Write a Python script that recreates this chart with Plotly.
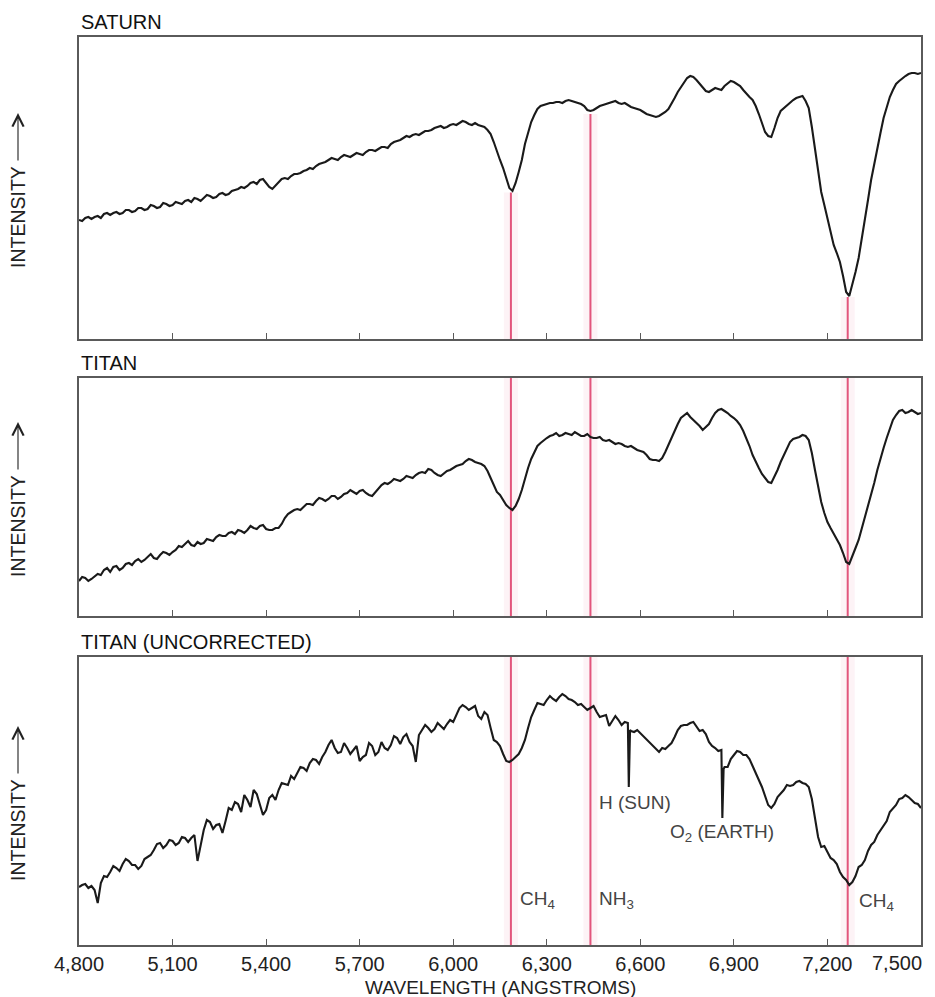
import plotly.graph_objects as go
import numpy as np

# ---------------- data ----------------
WAVELENGTH = list(range(4800, 7501, 20))      # main sampling grid (Angstroms)
WAVELENGTH_MID = list(range(4810, 7500, 20))  # in-between samples (fine structure)

# relative intensity (arbitrary units)
SATURN = [
    119, 121, 120, 123, 125, 124, 127, 126, 129, 128,
    131, 130, 133, 132, 135, 134, 136, 138, 137, 140,
    141, 143, 142, 146, 145, 149, 152, 153, 157, 159,
    156, 150, 157, 161, 163, 165, 168, 171, 173, 176,
    179, 180, 182, 183, 184, 185, 187, 189, 190, 192,
    195, 198, 201, 202, 205, 206, 208, 211, 213, 212,
    215, 216, 217, 214, 214, 212, 205, 187, 171, 151,
    156, 179, 207, 224, 233, 235, 236, 237, 238, 238,
    236, 233, 228, 231, 234, 236, 238, 235, 234, 231,
    229, 225, 223, 223, 227, 235, 247, 257, 263, 259,
    251, 247, 251, 249, 256, 257, 253, 245, 239, 225,
    207, 202, 221, 231, 237, 241, 243, 231, 189, 147,
    121, 94, 77, 47, 54, 81, 117, 159, 191, 221,
    242, 255, 261, 265, 266, 266,
]
SATURN_MID = [
    118, 122, 122, 121, 126, 126, 125, 129, 127, 131,
    129, 134, 131, 136, 133, 137, 135, 139, 141, 138,
    144, 141, 145, 144, 148, 150, 151, 156, 155, 160,
    152, 153, 160, 160, 165, 166, 169, 170, 175, 177,
    181, 179, 184, 182, 186, 184, 189, 188, 192, 191,
    197, 199, 203, 204, 204, 208, 209, 212, 211, 214,
    214, 218, 215, 216, 213, 209, 197, 179, 160, 148,
    167, 195, 217, 230, 234, 236, 237, 236, 239, 237,
    235, 229, 229, 233, 235, 237, 236, 236, 232, 230,
    227, 224, 222, 225, 230, 241, 252, 261, 262, 255,
    248, 249, 250, 253, 258, 255, 249, 242, 233, 216,
    203, 211, 228, 234, 239, 242, 238, 212, 168, 134,
    107, 86, 63, 43, 67, 99, 139, 176, 206, 232,
    249, 258, 263, 266, 265,
]

TITAN = [
    35, 38, 37, 42, 46, 44, 50, 48, 53, 55,
    54, 59, 58, 61, 63, 64, 70, 72, 71, 74,
    73, 76, 79, 80, 83, 82, 85, 86, 88, 90,
    87, 86, 88, 98, 104, 107, 109, 112, 115, 117,
    117, 120, 119, 123, 124, 125, 123, 120, 128, 133,
    134, 136, 137, 139, 141, 144, 147, 143, 140, 145,
    148, 151, 155, 156, 153, 150, 138, 124, 116, 108,
    110, 126, 148, 164, 173, 178, 181, 180, 183, 181,
    182, 180, 179, 178, 176, 176, 172, 172, 169, 168,
    165, 161, 156, 155, 164, 178, 192, 201, 199, 194,
    186, 192, 203, 207, 203, 198, 191, 178, 161, 148,
    138, 133, 146, 161, 174, 178, 181, 176, 146, 114,
    94, 82, 71, 54, 61, 76, 98, 121, 146, 168,
    188, 201, 206, 204, 204, 203,
]
TITAN_MID = [
    39, 35, 40, 41, 48, 49, 46, 52, 51, 57,
    56, 62, 57, 64, 61, 66, 69, 75, 70, 72,
    77, 75, 81, 80, 84, 86, 83, 90, 87, 91,
    86, 88, 92, 102, 106, 106, 112, 111, 118, 115,
    120, 117, 122, 126, 122, 126, 121, 124, 131, 132,
    137, 135, 140, 138, 143, 143, 146, 141, 143, 146,
    150, 152, 157, 154, 152, 145, 130, 121, 111, 106,
    117, 138, 157, 170, 176, 180, 183, 181, 182, 184,
    180, 182, 178, 179, 175, 174, 173, 170, 170, 166,
    164, 157, 156, 158, 171, 186, 198, 203, 196, 190,
    189, 198, 206, 205, 200, 195, 185, 170, 154, 142,
    134, 139, 154, 168, 177, 179, 180, 163, 130, 103,
    88, 77, 63, 52, 68, 87, 110, 133, 158, 178,
    196, 205, 203, 206, 202,
]

TITAN_UNCORRECTED = [
    58, 61, 59, 42, 69, 73, 77, 81, 84, 80,
    79, 88, 95, 102, 100, 104, 102, 107, 107, 84,
    115, 123, 120, 112, 137, 143, 133, 145, 155, 140,
    135, 150, 155, 161, 169, 172, 177, 182, 185, 188,
    200, 197, 193, 197, 195, 184, 190, 199, 193, 197,
    200, 207, 208, 203, 183, 215, 217, 216, 219, 221,
    223, 237, 238, 237, 229, 233, 217, 203, 191, 183,
    188, 197, 217, 235, 241, 245, 246, 248, 249, 245,
    240, 238, 237, 233, 229, 219, 229, 220, 222, 213,
    212, 205, 199, 193, 196, 202, 215, 220, 222, 219,
    215, 203, 197, 195, 178, 190, 193, 190, 179, 165,
    150, 137, 148, 155, 159, 163, 162, 158, 125, 98,
    93, 85, 73, 65, 63, 78, 85, 100, 110, 119,
    133, 140, 147, 148, 142, 137,
]
TITAN_UNCORRECTED_MID = [
    60, 57, 55, 62, 68, 79, 74, 86, 80, 76,
    86, 90, 101, 97, 105, 100, 108, 103, 110, 101,
    125, 116, 121, 124, 135, 141, 150, 138, 151, 130,
    147, 145, 162, 160, 166, 178, 174, 186, 181, 193,
    205, 192, 202, 191, 199, 188, 202, 190, 203, 195,
    209, 201, 211, 199, 210, 220, 213, 222, 216, 225,
    230, 240, 235, 239, 226, 230, 205, 199, 184, 185,
    191, 205, 228, 242, 240, 249, 244, 251, 246, 243,
    241, 235, 239, 228, 230, 224, 225, 223, 214, 215,
    208, 203, 196, 197, 199, 208, 219, 220, 223, 214,
    211, 199, 194, 178, 186, 194, 190, 186, 171, 158,
    140, 141, 151, 160, 160, 164, 161, 146, 108, 99,
    87, 81, 68, 60, 69, 80, 94, 103, 115, 124,
    137, 146, 150, 145, 141,
]
# narrow absorption spikes in the uncorrected spectrum (H-alpha, O2 B band)
SPIKE_WL = [6563, 6567, 6863, 6867]
SPIKE_VALS = [158, 215, 127, 176]

TICK_VALS = [4800, 5100, 5400, 5700, 6000, 6300, 6600, 6900, 7200, 7500]
TICK_TEXT = ["4,800", "5,100", "5,400", "5,700", "6,000", "6,300",
             "6,600", "6,900", "7,200", "7,500"]

BAND_WL = [6185, 6440, 7265]          # CH4, NH3, CH4 reference lines
LABEL_TEXT = ["CH<sub>4</sub>", "NH<sub>3</sub>", "H (SUN)",
              "O<sub>2</sub> (EARTH)", "CH<sub>4</sub>"]
LABEL_WL = [6207, 6460, 6460, 6688, 7294]
LABEL_VAL = [45, 45, 143, 112, 43]

PANEL_TITLES = ["SATURN", "TITAN", "TITAN (UNCORRECTED)"]
Y_MAX = [302, 238, 288]

# ---------------- helpers ----------------
def combine(grid_vals, mid_vals, extra_wl=(), extra_vals=()):
    wl = np.array(WAVELENGTH + WAVELENGTH_MID + list(extra_wl))
    v = np.array(list(grid_vals) + list(mid_vals) + list(extra_vals))
    o = np.argsort(wl, kind="stable")
    return wl[o], v[o]

series = [combine(SATURN, SATURN_MID),
          combine(TITAN, TITAN_MID),
          combine(TITAN_UNCORRECTED, TITAN_UNCORRECTED_MID, SPIKE_WL, SPIKE_VALS)]

# ---------------- figure ----------------
OFF = 8                      # page body margin of the browser
W, H = 935 - OFF, 997 - OFF
ML, MR, MT, MB = 79 - OFF, 14, 37 - OFF, 52
PH = H - MT - MB             # 908
PW = W - ML - MR             # 842

def ypaper(py):              # page pixel -> paper fraction
    return (H - MB - (py - OFF)) / PH

def xpaper(px):
    return (px - OFF - ML) / PW

DOMAINS = [[ypaper(339), 1.0], [ypaper(616), ypaper(378)], [0.0, ypaper(657)]]

fig = go.Figure()
CURVE = "#1a1a1a"
FRAME = "#5a5a5a"
PINK = "#e2557c"
FONT = "Liberation Sans, Arial, sans-serif"

for i, (wl, vals) in enumerate(series):
    sfx = "" if i == 0 else str(i + 1)
    fig.add_trace(go.Scatter(x=wl, y=vals, mode="lines",
                             line=dict(color=CURVE, width=2.1),
                             xaxis="x" + sfx, yaxis="y" + sfx,
                             showlegend=False, hoverinfo="skip"))
    last = (i == 2)
    ttext = TICK_TEXT[:-1] + [""]   # last label drawn separately (kept inside page)
    fig.update_layout(**{
        "xaxis" + sfx: dict(range=[4800, 7500], domain=[0, 1], anchor="y" + sfx,
                            tickvals=TICK_VALS, ticktext=ttext,
                            ticks="inside", ticklen=6, tickwidth=1.3, tickcolor=FRAME,
                            showticklabels=last, showline=True, mirror=True,
                            linecolor=FRAME, linewidth=1.5, showgrid=False, zeroline=False,
                            tickfont=dict(family=FONT, size=20, color="#222"),
                            ticklabelstandoff=0),
        "yaxis" + sfx: dict(range=[0, Y_MAX[i]], domain=DOMAINS[i], anchor="x" + sfx,
                            showticklabels=False, ticks="", showline=True, mirror=True,
                            linecolor=FRAME, linewidth=1.5, showgrid=False, zeroline=False),
    })

    # panel title
    fig.add_annotation(text=PANEL_TITLES[i], xref="paper", yref="paper",
                       x=0, y=DOMAINS[i][1], xanchor="left", yanchor="middle",
                       yshift=15, showarrow=False,
                       font=dict(family=FONT, size=20, color="#111"))

    # INTENSITY label + arrow
    mid_px = H - MB - (DOMAINS[i][0] + DOMAINS[i][1]) / 2 * PH + OFF
    fig.add_annotation(text="INTENSITY", textangle=-90, xref="paper", yref="paper",
                       x=xpaper(18), y=ypaper(mid_px + 29), xanchor="center",
                       yanchor="middle", showarrow=False,
                       font=dict(family=FONT, size=19.5, color="#222"))
    fig.add_annotation(text="", xref="paper", yref="paper",
                       x=xpaper(18), y=ypaper(mid_px - 75), ax=0, ay=49,
                       showarrow=True, arrowhead=5, arrowsize=2.0, arrowwidth=1.1,
                       arrowcolor="#222")

# last tick label, right-aligned so it stays inside the page
fig.add_annotation(text=TICK_TEXT[-1], x=TICK_VALS[-1], xref="x3",
                   y=0, yref="y3 domain", xanchor="right", yanchor="middle",
                   xshift=3, yshift=-18, showarrow=False,
                   font=dict(family=FONT, size=20, color="#222"))

# reference band lines
for wl in BAND_WL:
    top = float(np.interp(wl, series[0][0], series[0][1])) - 3
    segs = [("x", "y", 0, top), ("x2", "y2 domain", 0, 1), ("x3", "y3 domain", 0, 1)]
    for xr, yr, y0, y1 in segs:
        fig.add_shape(type="line", xref=xr, yref=yr, x0=wl, x1=wl, y0=y0, y1=y1,
                      line=dict(color="rgba(235,140,170,0.10)", width=14), layer="below")
        fig.add_shape(type="line", xref=xr, yref=yr, x0=wl, x1=wl, y0=y0, y1=y1,
                      line=dict(color=PINK, width=2), layer="below")

# feature labels in the bottom panel
for t, wl, v in zip(LABEL_TEXT, LABEL_WL, LABEL_VAL):
    fig.add_annotation(text=t, x=wl, y=v, xref="x3", yref="y3",
                       xanchor="left", yanchor="middle", showarrow=False,
                       font=dict(family=FONT, size=19, color="#444"))

# x-axis title
fig.add_annotation(text="WAVELENGTH (ANGSTROMS)", xref="paper", yref="paper",
                   x=0.5, y=0, yshift=-42, xanchor="center", yanchor="middle",
                   showarrow=False, font=dict(family=FONT, size=19, color="#222"))

fig.update_layout(width=W, height=H, autosize=False,
                  margin=dict(l=ML, r=MR, t=MT, b=MB, autoexpand=False),
                  paper_bgcolor="white", plot_bgcolor="white",
                  font=dict(family=FONT))

fig.write_html("out.html")
